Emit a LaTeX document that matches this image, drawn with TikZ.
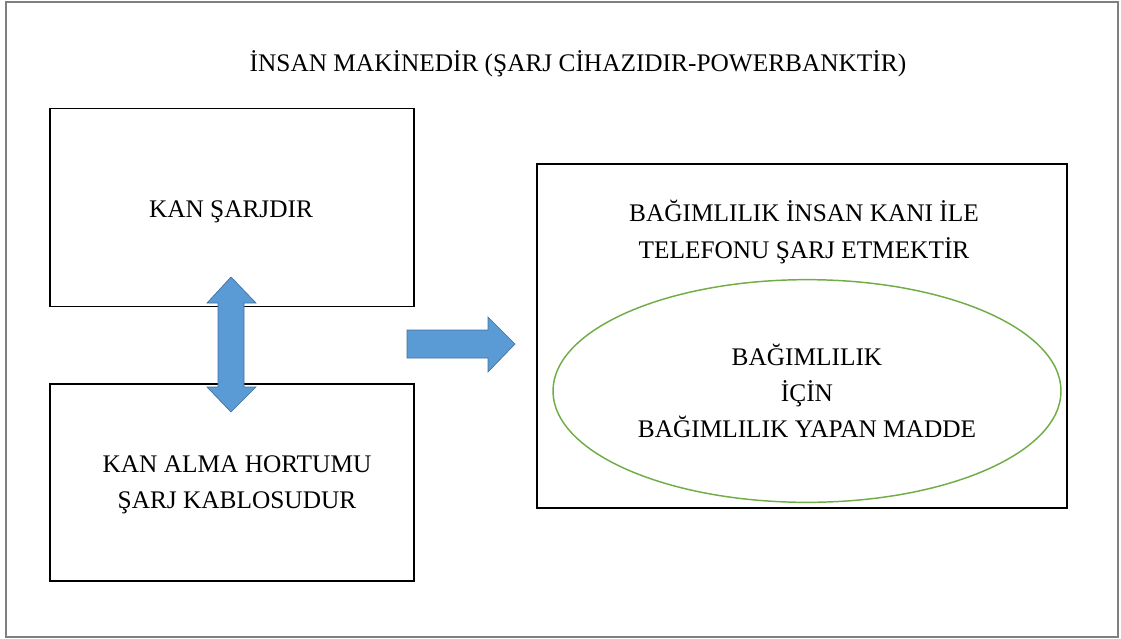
\documentclass[tikz,border=0pt]{standalone}
\usepackage{fontspec}
\setmainfont{Liberation Serif}
\usetikzlibrary{positioning, shapes.geometric}
\definecolor{frmgray}{HTML}{7F7F7F}
\definecolor{arrblue}{HTML}{5B9BD5}
\definecolor{arrdark}{HTML}{41719C}
\definecolor{ovgreen}{HTML}{70AD47}
\tikzset{
  box/.style={rectangle, draw=black, line width=1.1pt, inner sep=0pt},
  txt/.style={font=\fontsize{19}{27.2}\selectfont, align=center, inner sep=0pt},
  oval/.style={ellipse, draw=ovgreen, line width=1.1pt, minimum width=381pt, minimum height=167pt,
    font=\fontsize{19}{27}\selectfont, align=center, inner sep=0pt},
  blockarr/.style={fill=arrblue, draw=arrdark, line width=0.5pt, line join=miter},
}

\begin{document}
\begin{tikzpicture}[x=0.75pt, y=-0.75pt]
    \useasboundingbox (0,0) rectangle (1121,639);
    \draw[frmgray, line width=1.6pt] (6,2) rectangle (1118,637);

    \node[txt] (title) at (578,64) {İNSAN MAKİNEDİR (ŞARJ CİHAZIDIR-POWERBANKTİR)};
    \node[box, minimum width=273pt, minimum height=148.5pt] (kan) at (232,207.5) {};
    \node[txt] (kantxt) at (231,212) {KAN ŞARJDIR};
    \node[box, minimum width=273pt, minimum height=148pt] (hortum) at (232,482.5) {};
    \node[txt] (hortumtxt) at (237,485) {KAN ALMA HORTUMU\\ŞARJ KABLOSUDUR};
    \node[box, minimum width=397.5pt, minimum height=258pt] (bag) at (802,336) {};
    \node[txt] (bagtxt) at (804,232) {BAĞIMLILIK İNSAN KANI İLE\\TELEFONU ŞARJ ETMEKTİR};
    \node[oval] (madde) at (807,391) {BAĞIMLILIK\\İÇİN\\BAĞIMLILIK YAPAN MADDE};

    % double arrow between the two left boxes
    \draw[blockarr] (231,277) -- (256,303) -- (244,303) -- (244,387) -- (256,387) -- (231,412)
      -- (207,387) -- (218,387) -- (218,303) -- (207,303) -- cycle;
    % arrow to the right box
    \draw[blockarr] (407,330) -- (488,330) -- (488,317) -- (515,344) -- (488,372) -- (488,358)
      -- (407,358) -- cycle;
  \end{tikzpicture}
\end{document}
